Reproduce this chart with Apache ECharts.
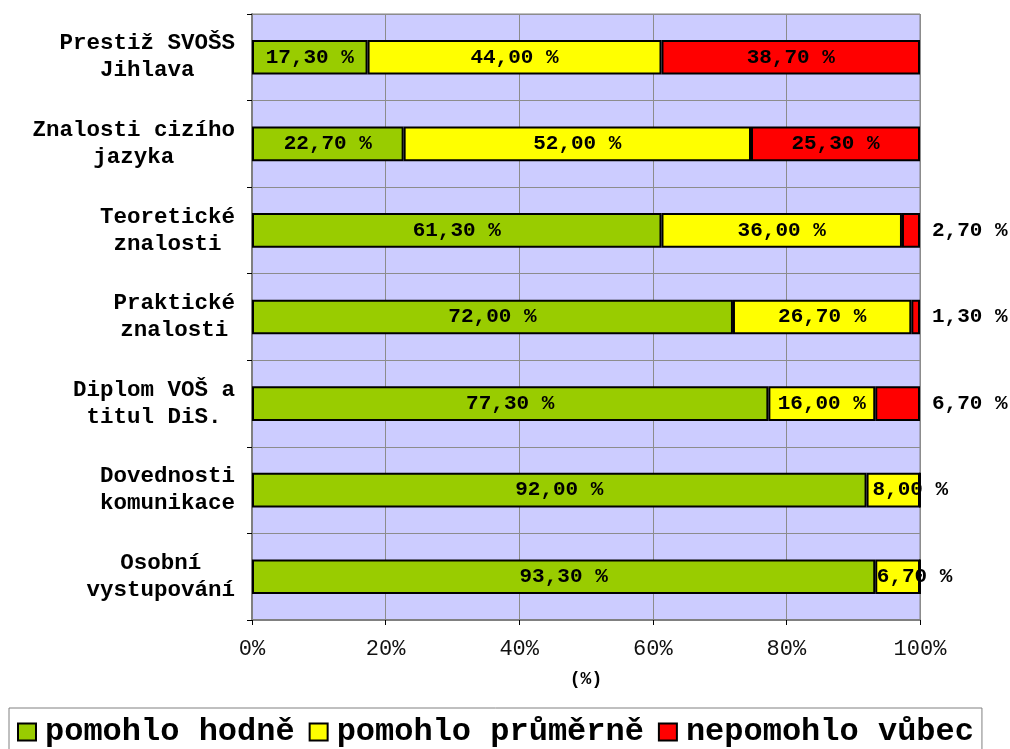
<!DOCTYPE html>
<html>
<head>
<meta charset="utf-8">
<script src="https://cdn.jsdelivr.net/npm/echarts@6/dist/echarts.min.js"></script>
<style>
  html, body { margin: 0; padding: 0; background: #fff; }
  #chart { width: 1010px; height: 749px; }
</style>
</head>
<body>
<div id="chart"></div>
<script>
const categories = [
  'Prestiž SVOŠS\nJihlava',
  'Znalosti cizího\njazyka',
  'Teoretické\nznalosti',
  'Praktické\nznalosti',
  'Diplom VOŠ a\ntitul DiS.',
  'Dovednosti\nkomunikace',
  'Osobní\nvystupování'
]
const seriesNames = ['pomohlo hodně', 'pomohlo průměrně', 'nepomohlo vůbec']
const helpedMuch = [17.3, 22.7, 61.3, 72.0, 77.3, 92.0, 93.3]
const helpedAverage = [44.0, 52.0, 36.0, 26.7, 16.0, 8.0, 6.7]
const notHelped = [38.7, 25.3, 2.7, 1.3, 6.7, 0, 0]
const valueTicks = [0, 20, 40, 60, 80, 100]

const mono = "'Liberation Mono', 'Courier New', monospace"
const colors = ['#99CC00', '#FFFF00', '#FF0000']

function fmtLabel(p) {
  if (!p.value) return ''
  return p.value.toFixed(2).replace('.', ',') + ' %'
}

// small segments: red labels go outside, yellow ones get pushed right like in the original
function smallLabel(kind) {
  if (kind === 'outside') return { position: 'right', distance: 12 }
  if (kind === 'nudge') return { padding: [0, 0, 0, 34] }
  return null
}

function makeSeries(name, values, color, smallKind) {
  return {
    name: name,
    type: 'bar',
    stack: 'total',
    barWidth: '40%',
    itemStyle: { color: color, borderColor: '#000', borderWidth: 2 },
    label: {
      show: true,
      position: 'inside',
      formatter: fmtLabel,
      fontFamily: mono,
      fontWeight: 'bold',
      fontSize: 21,
      color: '#000'
    },
    data: values.map(v => (smallKind && v > 0 && v < 10)
      ? { value: v, label: smallLabel(smallKind) }
      : v)
  }
}

const chart = echarts.init(document.getElementById('chart'))
chart.setOption({
  animation: false,
  grid: {
    left: 252, right: 90, top: 14, bottom: 129,
    show: true,
    backgroundColor: '#CCCCFF',
    borderColor: '#808080',
    borderWidth: 1
  },
  legend: {
    data: seriesNames,
    left: 9,
    top: 708,
    padding: [8, 8, 12, 8],
    borderColor: '#808080',
    borderWidth: 1,
    itemWidth: 18,
    itemHeight: 17,
    itemGap: 14,
    icon: 'rect',
    textStyle: { fontFamily: mono, fontWeight: 'bold', fontSize: 32, color: '#000', padding: [0, 0, 0, 4] }
  },
  xAxis: {
    type: 'value',
    min: valueTicks[0],
    max: valueTicks[valueTicks.length - 1],
    interval: valueTicks[1] - valueTicks[0],
    name: '(%)',
    nameLocation: 'middle',
    nameGap: 50,
    nameTextStyle: { fontFamily: mono, fontWeight: 'bold', fontSize: 18, color: '#000' },
    axisLine: { show: true, lineStyle: { color: '#808080', width: 2 } },
    axisTick: { show: true, length: 5, lineStyle: { color: '#000' } },
    axisLabel: {
      formatter: '{value}%',
      fontFamily: mono,
      fontSize: 22,
      color: '#111',
      margin: 18
    },
    splitLine: { show: true, lineStyle: { color: '#8c8c8c', width: 1 } }
  },
  yAxis: {
    type: 'category',
    inverse: true,
    data: categories,
    axisLine: { show: true, lineStyle: { color: '#808080', width: 2 } },
    axisTick: { show: true, length: 5, lineStyle: { color: '#000' } },
    splitLine: { show: true, lineStyle: { color: '#8c8c8c', width: 1 } },
    axisLabel: {
      margin: 17,
      align: 'right',
      formatter: v => v.split('\n').map(s => '{c|' + s + '}').join('\n'),
      rich: {
        c: {
          fontFamily: mono,
          fontWeight: 'bold',
          fontSize: 22.5,
          lineHeight: 27,
          align: 'center',
          color: '#000'
        }
      }
    }
  },
  series: [
    makeSeries(seriesNames[0], helpedMuch, colors[0], null),
    makeSeries(seriesNames[1], helpedAverage, colors[1], 'nudge'),
    makeSeries(seriesNames[2], notHelped, colors[2], 'outside')
  ]
})
</script>
</body>
</html>
